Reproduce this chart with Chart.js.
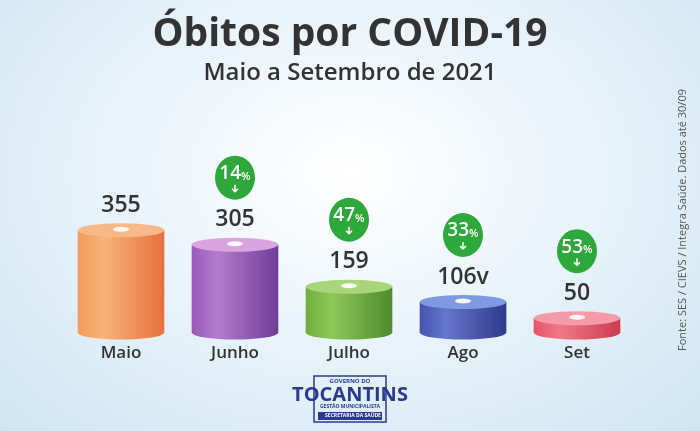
<!DOCTYPE html>
<html>
<head>
<meta charset="utf-8">
<script src="https://cdn.jsdelivr.net/npm/chart.js@4"></script>
<style>
  body { margin: 0; }
  #wrap { width: 700px; height: 431px; background: radial-gradient(ellipse at 50% 40%, #ffffff 0%, #eaf4fb 45%, #cfe5f3 100%); }
</style>
</head>
<body>
<div id="wrap"><canvas id="myChart" width="700" height="431"></canvas></div>
<script>
const months = ["Maio", "Junho", "Julho", "Ago", "Set"];
const deaths = [355, 305, 159, 106, 50];
const valueLabels = ["355", "305", "159", "106v", "50"];
const drops = [null, "14", "47", "33", "53"];
const sideColors = [["#f49a5a", "#f9b27a", "#e8703c"], ["#9a5ab8", "#b37ccc", "#6f3d98"], ["#6fae3e", "#8fc85a", "#4f8a2c"], ["#4454b0", "#6676cc", "#2e3a8c"], ["#e65468", "#f07888", "#cc3a50"]];
const topColors = ["#f8b888", "#d9a4e0", "#a8d47a", "#7f9ae0", "#f49aa8"];

const cylinders = {
  id: "cylinders",
  afterDatasetsDraw(chart) {
    const ctx = chart.ctx;
    const meta = chart.getDatasetMeta(0);
    meta.data.forEach((bar, i) => {
      const w = bar.width, x0 = bar.x - w / 2, top = bar.y, base = bar.base, ry = 7;
      const c = sideColors[i];
      const g = ctx.createLinearGradient(x0, 0, x0 + w, 0);
      g.addColorStop(0, c[0]); g.addColorStop(0.3, c[1]); g.addColorStop(1, c[2]);
      ctx.save();
      ctx.fillStyle = g;
      ctx.beginPath();
      ctx.moveTo(x0, top);
      ctx.lineTo(x0, base);
      ctx.ellipse(bar.x, base, w / 2, ry, 0, Math.PI, 0, true);
      ctx.lineTo(x0 + w, top);
      ctx.closePath();
      ctx.fill();
      ctx.fillStyle = topColors[i];
      ctx.beginPath();
      ctx.ellipse(bar.x, top, w / 2, ry, 0, 0, Math.PI * 2);
      ctx.fill();
      ctx.fillStyle = "rgba(255,255,255,0.9)";
      ctx.beginPath();
      ctx.ellipse(bar.x, top - 1, 8, 2.5, 0, 0, Math.PI * 2);
      ctx.fill();

      ctx.fillStyle = "#333";
      ctx.font = "600 23px 'Open Sans'";
      ctx.textAlign = "center";
      ctx.textBaseline = "middle";
      const ly = top - 25;
      ctx.fillText(valueLabels[i], bar.x, ly);

      if (drops[i]) {
        const cy = ly - 42;
        ctx.fillStyle = "#2ea83a";
        ctx.beginPath();
        ctx.ellipse(bar.x, cy, 20, 22, 0, 0, Math.PI * 2);
        ctx.fill();
        ctx.fillStyle = "#fff";
        ctx.font = "600 19px 'Open Sans'";
        ctx.textAlign = "right";
        ctx.fillText(drops[i], bar.x + 6, cy - 4);
        ctx.font = "600 11px 'Open Sans'";
        ctx.textAlign = "left";
        ctx.fillText("%", bar.x + 6, cy - 1);
        ctx.strokeStyle = "#fff";
        ctx.lineWidth = 1.5;
        ctx.beginPath();
        ctx.moveTo(bar.x, cy + 7); ctx.lineTo(bar.x, cy + 14);
        ctx.moveTo(bar.x - 3, cy + 11); ctx.lineTo(bar.x, cy + 14); ctx.lineTo(bar.x + 3, cy + 11);
        ctx.stroke();
      }
      ctx.restore();
    });
  },
  afterDraw(chart) {
    const ctx = chart.ctx;
    ctx.save();
    ctx.textAlign = "center";
    ctx.textBaseline = "middle";
    ctx.fillStyle = "#333";
    ctx.font = "bold 39px 'Open Sans'";
    ctx.fillText("Óbitos por COVID-19", 350, 35);
    ctx.font = "600 24px 'Open Sans'";
    ctx.fillText("Maio a Setembro de 2021", 350, 73);

    ctx.save();
    ctx.translate(683, 220);
    ctx.rotate(-Math.PI / 2);
    ctx.fillStyle = "#555";
    ctx.font = "11px 'Open Sans'";
    ctx.fillText("Fonte: SES / CIEVS / Integra Saúde. Dados até 30/09", 0, 0);
    ctx.restore();

    ctx.fillStyle = "#2b3990";
    ctx.font = "bold 6px 'Open Sans'";
    ctx.fillText("GOVERNO DO", 350, 381);
    ctx.font = "bold 20px 'Open Sans'";
    ctx.fillText("TOCANTINS", 350, 395);
    ctx.font = "bold 5px 'Open Sans'";
    ctx.fillText("GESTÃO MUNICIPALISTA", 350, 407);
    ctx.fillRect(318, 412, 64, 8);
    ctx.fillStyle = "#fff";
    ctx.font = "bold 5px 'Open Sans'";
    ctx.fillText("SECRETARIA DA SAÚDE", 353, 416);
    ctx.strokeStyle = "#2b3990";
    ctx.lineWidth = 1.5;
    ctx.strokeRect(314, 376, 72, 46);
    ctx.restore();
  }
};

new Chart(document.getElementById("myChart").getContext("2d"), {
  type: "bar",
  data: {
    labels: months,
    datasets: [{ data: deaths, backgroundColor: "rgba(0,0,0,0)", categoryPercentage: 0.76, barPercentage: 1 }]
  },
  options: {
    responsive: false,
    animation: false,
    layout: { padding: { left: 64, right: 66, top: 200, bottom: 66 } },
    plugins: { legend: { display: false }, tooltip: { enabled: false } },
    scales: {
      x: { grid: { display: false }, border: { display: false },
           ticks: { color: "#333", font: { family: "Open Sans", size: 17, weight: "600" }, padding: 2 } },
      y: { display: false, min: 0, max: 460 }
    }
  },
  plugins: [cylinders]
});
</script>
</body>
</html>
